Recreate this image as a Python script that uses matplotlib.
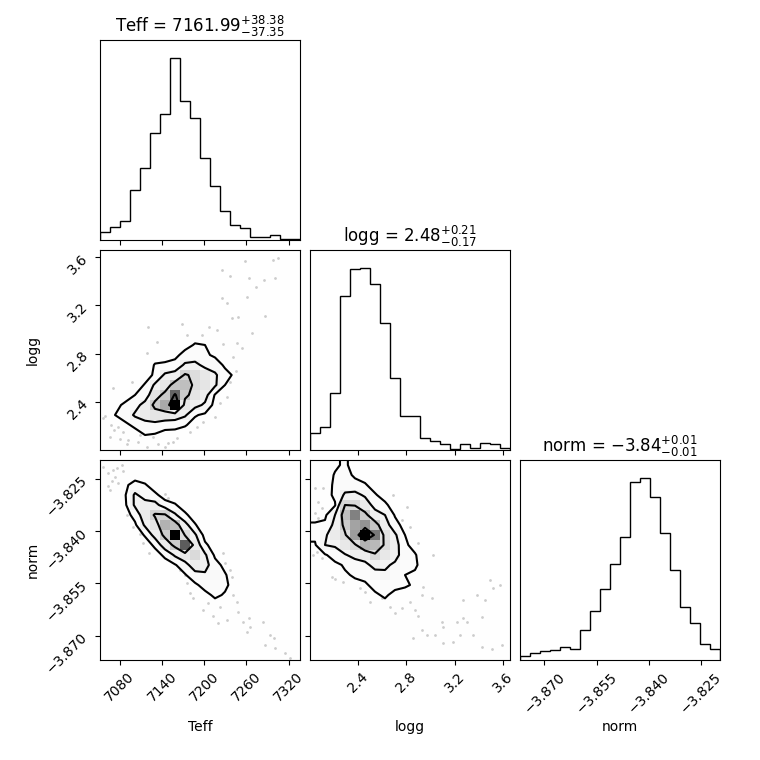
import numpy as np
import matplotlib
matplotlib.use("Agg")
import matplotlib.pyplot as plt
from matplotlib.colors import LinearSegmentedColormap
from matplotlib.ticker import FixedLocator, NullLocator

# parameters, ranges and ticks
labels = ["Teff", "logg", "norm"]
ranges = [(7052.0, 7336.0), (2.007, 3.655), (-3.8770, -3.8196)]
titles = [r"Teff = $7161.99_{-37.35}^{+38.38}$",
          r"logg = $2.48_{-0.17}^{+0.21}$",
          r"norm = $-3.84_{-0.01}^{+0.01}$"]
ticks = [[7080, 7140, 7200, 7260, 7320],
         [2.4, 2.8, 3.2, 3.6],
         [-3.870, -3.855, -3.840, -3.825]]

# 1D histograms (20 bins each)
teff_hist = [25, 38, 58, 150, 215, 322, 378, 545, 418, 367, 245, 162, 88, 44, 35, 8, 8, 14, 3, 3]
logg_hist = [50, 68, 172, 462, 542, 545, 497, 380, 215, 102, 102, 35, 28, 18, 2, 17, 5, 20, 18, 5]
norm_hist = [12, 20, 27, 30, 38, 32, 90, 147, 214, 287, 368, 533, 545, 490, 380, 270, 160, 110, 48, 32]

# 2D histograms, top row of the panel first (x bins left to right)
teff_logg = [
    [0, 0, 0, 0, 0, 0, 0, 0, 0, 0, 0, 0, 0, 0, 0, 0, 0, 0, 0, 1],
    [0, 0, 0, 0, 0, 0, 0, 0, 0, 0, 0, 0, 0, 0, 0, 0, 0, 1, 1, 0],
    [0, 0, 0, 0, 0, 0, 0, 0, 0, 0, 0, 0, 0, 0, 0, 0, 0, 1, 1, 1],
    [0, 0, 0, 0, 0, 0, 0, 0, 0, 0, 0, 0, 0, 0, 0, 0, 1, 0, 1, 0],
    [0, 0, 0, 0, 0, 0, 0, 0, 0, 0, 0, 0, 0, 0, 0, 1, 1, 1, 0, 0],
    [0, 0, 0, 0, 0, 0, 0, 0, 0, 0, 0, 0, 0, 0, 0, 0, 1, 0, 0, 0],
    [0, 0, 0, 0, 0, 0, 0, 0, 0, 0, 0, 0, 0, 0, 1, 1, 0, 1, 0, 0],
    [0, 0, 0, 0, 0, 0, 0, 0, 0, 1, 1, 0, 0, 1, 2, 1, 1, 0, 0, 0],
    [0, 0, 0, 0, 0, 0, 0, 0, 1, 3, 3, 2, 2, 2, 2, 1, 0, 0, 0, 0],
    [0, 0, 0, 0, 0, 0, 0, 1, 4, 9, 8, 3, 3, 3, 3, 1, 0, 0, 0, 0],
    [0, 0, 0, 0, 0, 2, 3, 5, 12, 12, 10, 6, 4, 4, 3, 1, 0, 0, 0, 0],
    [0, 0, 0, 0, 0, 9, 10, 12, 22, 24, 16, 14, 6, 5, 3, 0, 0, 0, 0, 0],
    [0, 0, 0, 0, 3, 10, 22, 25, 42, 36, 30, 22, 12, 6, 3, 0, 0, 0, 0, 0],
    [0, 0, 0, 2, 9, 22, 30, 48, 50, 36, 32, 22, 8, 6, 2, 0, 0, 0, 0, 0],
    [0, 1, 3, 8, 12, 32, 45, 78, 45, 32, 25, 7, 4, 4, 0, 0, 0, 0, 0, 0],
    [2, 5, 10, 15, 25, 45, 58, 100, 32, 24, 18, 4, 2, 2, 0, 0, 0, 0, 0, 0],
    [4, 8, 12, 22, 28, 32, 30, 28, 22, 9, 6, 2, 0, 0, 0, 0, 0, 0, 0, 0],
    [4, 5, 6, 10, 14, 15, 12, 12, 9, 4, 2, 0, 0, 0, 0, 0, 0, 0, 0, 0],
    [3, 4, 4, 4, 8, 7, 4, 3, 2, 1, 0, 0, 0, 0, 0, 0, 0, 0, 0, 0],
    [3, 3, 2, 2, 2, 1, 0, 0, 0, 0, 0, 0, 0, 0, 0, 0, 0, 0, 0, 0],
]

teff_norm = [
    [4, 3, 1, 0, 0, 0, 0, 0, 0, 0, 0, 0, 0, 0, 0, 0, 0, 0, 0, 0],
    [4, 4, 3, 3, 2, 0, 0, 0, 0, 0, 0, 0, 0, 0, 0, 0, 0, 0, 0, 0],
    [3, 5, 6, 12, 9, 3, 0, 0, 0, 0, 0, 0, 0, 0, 0, 0, 0, 0, 0, 0],
    [2, 4, 7, 22, 15, 10, 4, 2, 0, 0, 0, 0, 0, 0, 0, 0, 0, 0, 0, 0],
    [0, 2, 6, 22, 25, 25, 12, 9, 3, 0, 0, 0, 0, 0, 0, 0, 0, 0, 0, 0],
    [0, 0, 3, 12, 28, 42, 42, 22, 10, 3, 0, 0, 0, 0, 0, 0, 0, 0, 0, 0],
    [0, 0, 0, 6, 22, 32, 55, 50, 25, 9, 1, 0, 0, 0, 0, 0, 0, 0, 0, 0],
    [0, 0, 0, 2, 9, 25, 45, 100, 38, 22, 4, 0, 0, 0, 0, 0, 0, 0, 0, 0],
    [0, 0, 0, 0, 3, 10, 28, 45, 80, 30, 10, 3, 0, 0, 0, 0, 0, 0, 0, 0],
    [0, 0, 0, 0, 0, 4, 10, 22, 30, 38, 22, 6, 2, 0, 0, 0, 0, 0, 0, 0],
    [0, 0, 0, 0, 0, 0, 4, 7, 15, 28, 25, 12, 5, 0, 0, 0, 0, 0, 0, 0],
    [0, 0, 0, 0, 0, 0, 0, 3, 7, 15, 18, 15, 9, 2, 0, 0, 0, 0, 0, 0],
    [0, 0, 0, 0, 0, 0, 0, 0, 2, 6, 12, 14, 10, 4, 1, 0, 0, 0, 0, 0],
    [0, 0, 0, 0, 0, 0, 0, 0, 0, 2, 5, 10, 7, 4, 2, 0, 0, 0, 0, 0],
    [0, 0, 0, 0, 0, 0, 0, 0, 0, 0, 2, 4, 5, 4, 3, 0, 0, 0, 0, 0],
    [0, 0, 0, 0, 0, 0, 0, 0, 0, 0, 0, 2, 2, 3, 3, 1, 0, 0, 0, 0],
    [0, 0, 0, 0, 0, 0, 0, 0, 0, 0, 0, 0, 0, 2, 3, 2, 1, 1, 0, 0],
    [0, 0, 0, 0, 0, 0, 0, 0, 0, 0, 0, 0, 0, 0, 2, 1, 2, 2, 0, 0],
    [0, 0, 0, 0, 0, 0, 0, 0, 0, 0, 0, 0, 0, 0, 0, 1, 1, 2, 1, 1],
    [0, 0, 0, 0, 0, 0, 0, 0, 0, 0, 0, 0, 0, 0, 0, 0, 0, 1, 1, 1],
]

logg_norm = [
    [1, 1, 6, 10, 3, 2, 0, 0, 0, 0, 0, 0, 0, 0, 0, 0, 0, 0, 0, 0],
    [1, 2, 9, 12, 6, 4, 2, 0, 0, 0, 0, 0, 0, 0, 0, 0, 0, 0, 0, 0],
    [2, 3, 10, 14, 12, 9, 4, 2, 0, 0, 0, 0, 0, 0, 0, 0, 0, 0, 0, 0],
    [2, 4, 10, 22, 24, 18, 9, 4, 0, 0, 0, 0, 0, 0, 0, 0, 0, 0, 0, 0],
    [3, 5, 7, 40, 38, 28, 15, 10, 3, 0, 0, 0, 0, 0, 0, 0, 0, 0, 0, 0],
    [5, 6, 20, 50, 70, 45, 26, 20, 7, 2, 0, 0, 0, 0, 0, 0, 0, 0, 0, 0],
    [9, 10, 24, 45, 60, 65, 48, 26, 12, 4, 0, 0, 0, 0, 0, 0, 0, 0, 0, 0],
    [10, 18, 28, 38, 62, 100, 72, 34, 22, 8, 2, 0, 0, 0, 0, 0, 0, 0, 0, 0],
    [7, 20, 22, 30, 38, 55, 52, 38, 26, 10, 4, 0, 0, 0, 0, 0, 0, 0, 0, 0],
    [4, 7, 12, 19, 24, 28, 38, 30, 24, 14, 9, 1, 0, 0, 0, 0, 0, 0, 0, 0],
    [3, 5, 6, 9, 14, 16, 25, 22, 18, 12, 10, 2, 0, 0, 0, 0, 0, 0, 0, 0],
    [2, 3, 5, 7, 9, 10, 14, 18, 14, 8, 6, 3, 2, 0, 0, 0, 0, 0, 0, 0],
    [0, 2, 3, 5, 6, 7, 10, 12, 10, 9, 7, 4, 2, 0, 0, 0, 0, 0, 0, 0],
    [1, 0, 2, 3, 5, 5, 7, 9, 6, 5, 6, 4, 3, 1, 0, 0, 0, 0, 0, 0],
    [0, 0, 0, 2, 3, 3, 5, 6, 5, 4, 4, 3, 2, 2, 0, 0, 0, 0, 0, 0],
    [0, 0, 0, 0, 2, 2, 3, 4, 4, 3, 3, 3, 2, 2, 0, 1, 0, 1, 0, 0],
    [0, 0, 0, 0, 0, 0, 2, 3, 2, 2, 2, 2, 2, 2, 1, 1, 0, 1, 1, 0],
    [0, 0, 0, 0, 0, 0, 0, 1, 1, 1, 2, 2, 2, 1, 0, 1, 1, 1, 1, 0],
    [0, 0, 0, 0, 0, 0, 0, 0, 0, 0, 0, 1, 1, 1, 0, 1, 0, 1, 1, 0],
    [0, 0, 0, 0, 0, 0, 0, 0, 0, 0, 0, 0, 0, 0, 0, 0, 0, 0, 1, 1],
]

# contour levels for each 2D panel (same units as the grids)
teff_logg_levels = [8, 20, 40, 75]
teff_norm_levels = [8, 20, 40]
logg_norm_levels = [8, 20, 40, 75]

# samples outside the outer contours
teff_logg_x = [7257.9, 7298.1, 7305.2, 7224.8, 7236.6, 7264.0, 7300.5, 7285.3, 7273.0, 7260.3,
               7224.8, 7231.9, 7286.3, 7267.4, 7248.4, 7239.0, 7168.0, 7175.1, 7196.4, 7207.2,
               7217.7, 7227.1, 7246.1, 7253.2, 7241.3, 7245.1, 7236.6, 7231.9, 7222.4, 7215.3,
               7132.5, 7120.6, 7118.3, 7097.0, 7070.9, 7059.1, 7056.7, 7067.1, 7071.9, 7066.2,
               7080.4, 7092.2, 7089.9, 7106.4, 7118.3, 7134.8, 7144.3, 7149.0, 7161.8, 7179.8,
               7189.3, 7198.7, 7127.7, 7085.1, 7078.0, 7156.1, 7108.8]
teff_logg_y = [3.565, 3.573, 3.592, 3.490, 3.444, 3.427, 3.422, 3.405, 3.353, 3.271,
               3.262, 3.216, 3.114, 2.968, 3.106, 3.092, 3.043, 2.955, 2.955, 3.023,
               2.996, 2.878, 2.886, 2.845, 2.776, 2.658, 2.570, 2.447, 2.392, 2.282,
               2.900, 3.023, 2.804, 2.570, 2.515, 2.290, 2.268, 2.213, 2.172, 2.117,
               2.098, 2.089, 2.054, 2.076, 2.034, 2.054, 2.034, 2.062, 2.103, 2.158,
               2.199, 2.240, 2.117, 2.158, 2.199, 2.076, 2.131]

teff_norm_x = [7056.7, 7063.8, 7070.9, 7075.7, 7082.8, 7085.1, 7073.3, 7068.6, 7078.0, 7063.8,
               7066.2, 7089.9, 7099.3, 7108.8, 7112.6, 7122.0, 7144.3, 7149.0, 7165.6, 7172.7,
               7176.0, 7179.8, 7184.5, 7198.7, 7205.8, 7212.9, 7222.4, 7227.1, 7229.5, 7236.6,
               7239.0, 7241.3, 7246.1, 7248.4, 7255.5, 7264.0, 7265.0, 7283.9, 7293.4, 7299.1,
               7286.3, 7300.5, 7314.7, 7321.8, 7260.3, 7231.9, 7220.0]
teff_norm_y = [-3.8215, -3.8234, -3.8225, -3.8218, -3.8210, -3.8228, -3.8244, -3.8256, -3.8263, -3.8270,
               -3.8282, -3.8354, -3.8387, -3.8409, -3.8435, -3.8464, -3.8295, -3.8304, -3.8512, -3.8526,
               -3.8550, -3.8579, -3.8593, -3.8627, -3.8607, -3.8643, -3.8617, -3.8464, -3.8493, -3.8512,
               -3.8531, -3.8583, -3.8603, -3.8631, -3.8660, -3.8650, -3.8674, -3.8660, -3.8698, -3.8706,
               -3.8727, -3.8735, -3.8751, -3.8765, -3.8689, -3.8655, -3.8665]

logg_norm_x = [2.048, 2.117, 2.076, 2.103, 2.048, 2.076, 2.034, 2.062, 2.103, 2.186,
               2.213, 2.282, 2.419, 2.460, 2.501, 2.598, 2.666, 2.707, 2.762, 2.831,
               2.872, 2.900, 2.927, 2.941, 3.010, 3.023, 2.900, 2.804, 2.694, 2.762,
               2.831, 3.092, 3.106, 3.216, 3.271, 3.271, 3.298, 3.381, 3.422, 3.449,
               3.490, 3.518, 3.573, 3.587, 3.504, 3.422, 3.353, 3.243, 3.188, 3.106,
               3.037, 2.968, 2.927, 2.859]
logg_norm_y = [-3.8277, -3.8277, -3.8316, -3.8335, -3.8349, -3.8363, -3.8469, -3.8459, -3.8476, -3.8531,
               -3.8538, -3.8545, -3.8564, -3.8576, -3.8603, -3.8593, -3.8617, -3.8636, -3.8622, -3.8603,
               -3.8627, -3.8643, -3.8583, -3.8560, -3.8593, -3.8469, -3.8435, -3.8330, -3.8296, -3.8368,
               -3.8387, -3.8660, -3.8674, -3.8660, -3.8650, -3.8598, -3.8660, -3.8583, -3.8646, -3.8598,
               -3.8540, -3.8564, -3.8555, -3.8727, -3.8737, -3.8732, -3.8698, -3.8698, -3.8717, -3.8722,
               -3.8698, -3.8698, -3.8684, -3.8708]

NBINS = 20
density_cmap = LinearSegmentedColormap.from_list("density_cmap", ["k", (1, 1, 1, 0)])


def edges(k):
    return np.linspace(ranges[k][0], ranges[k][1], NBINS + 1)


def pad_grid(H, xe, ye):
    # extend the grid so contours close past the plot edges
    xc = 0.5 * (xe[1:] + xe[:-1])
    yc = 0.5 * (ye[1:] + ye[:-1])
    H2 = H.min() + np.zeros((H.shape[0] + 4, H.shape[1] + 4))
    H2[2:-2, 2:-2] = H
    H2[2:-2, 1] = H[:, 0]
    H2[2:-2, -2] = H[:, -1]
    H2[1, 2:-2] = H[0]
    H2[-2, 2:-2] = H[-1]
    H2[1, 1] = H[0, 0]
    H2[1, -2] = H[0, -1]
    H2[-2, 1] = H[-1, 0]
    H2[-2, -2] = H[-1, -1]
    dx = xc[1] - xc[0]
    dy = yc[1] - yc[0]
    X2 = np.concatenate([xc[0] + np.array([-2, -1]) * dx, xc, xc[-1] + np.array([1, 2]) * dx])
    Y2 = np.concatenate([yc[0] + np.array([-2, -1]) * dy, yc, yc[-1] + np.array([1, 2]) * dy])
    return X2, Y2, H2


def panel_2d(ax, kx, ky, grid, levels, px, py):
    H = np.array(grid, dtype=float)[::-1]
    xe, ye = edges(kx), edges(ky)
    X2, Y2, H2 = pad_grid(H, xe, ye)
    ax.plot(px, py, "o", color="k", ms=2.0, mec="none", alpha=0.2, zorder=-1)
    ax.contourf(X2, Y2, H2, [min(levels), H.max()], colors="white", antialiased=False)
    ax.pcolor(xe, ye, H.max() - H, cmap=density_cmap)
    ax.contour(X2, Y2, H2, levels, colors="k", linewidths=1.5)
    ax.set_xlim(ranges[kx])
    ax.set_ylim(ranges[ky])


fig, axes = plt.subplots(3, 3, figsize=(7.6, 7.6), dpi=100)
fig.subplots_adjust(left=1 / 7.6, right=7.2 / 7.6, bottom=1 / 7.6, top=7.2 / 7.6,
                    wspace=0.05, hspace=0.05)

# diagonal: 1D histograms
for k, counts in enumerate([teff_hist, logg_hist, norm_hist]):
    ax = axes[k, k]
    ax.stairs(counts, edges(k), color="k", linewidth=1.0)
    ax.set_xlim(ranges[k])
    ax.set_ylim(0, 1.1 * max(counts))
    ax.set_title(titles[k], fontsize=12)
    ax.yaxis.set_major_locator(NullLocator())

panel_2d(axes[1, 0], 0, 1, teff_logg, teff_logg_levels, teff_logg_x, teff_logg_y)
panel_2d(axes[2, 0], 0, 2, teff_norm, teff_norm_levels, teff_norm_x, teff_norm_y)
panel_2d(axes[2, 1], 1, 2, logg_norm, logg_norm_levels, logg_norm_x, logg_norm_y)

# empty upper triangle
for r, c in [(0, 1), (0, 2), (1, 2)]:
    axes[r, c].set_frame_on(False)
    axes[r, c].set_xticks([])
    axes[r, c].set_yticks([])

for r in range(3):
    for c in range(r + 1):
        ax = axes[r, c]
        ax.xaxis.set_major_locator(FixedLocator(ticks[c]))
        if r < 2:
            ax.tick_params(axis="x", labelbottom=False)
        else:
            ax.tick_params(axis="x", labelrotation=45)
            ax.set_xlabel(labels[c])
            ax.xaxis.set_label_coords(0.5, -0.3)
        if r != c:
            ax.yaxis.set_major_locator(FixedLocator(ticks[r]))
            if c > 0:
                ax.tick_params(axis="y", labelleft=False)
            else:
                ax.tick_params(axis="y", labelrotation=45)
                ax.set_ylabel(labels[r])
                ax.yaxis.set_label_coords(-0.3, 0.5)

fig.savefig("out.png", dpi=100)
